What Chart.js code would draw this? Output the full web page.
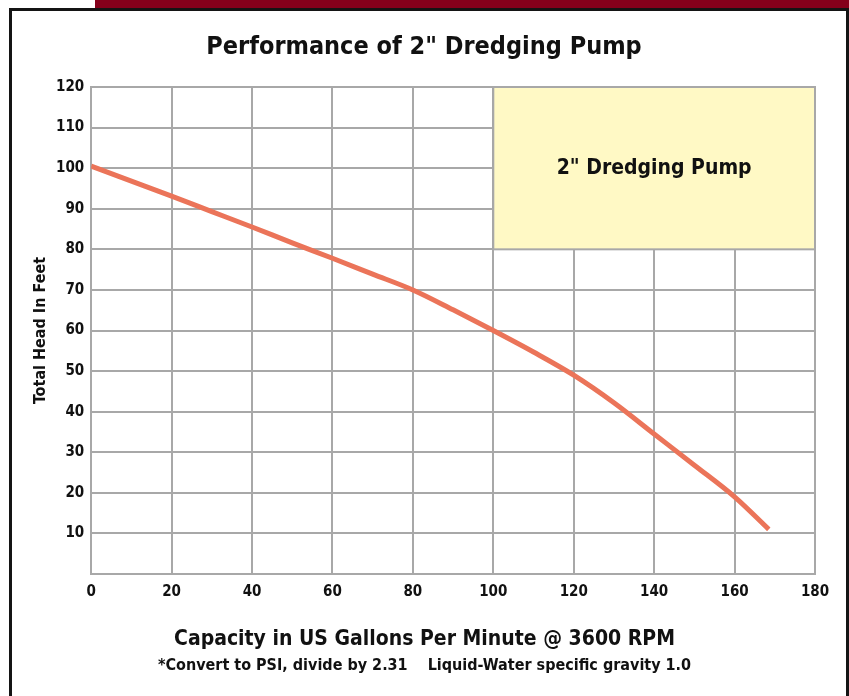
<!DOCTYPE html>
<html>
<head>
<meta charset="utf-8">
<script src="https://cdn.jsdelivr.net/npm/chart.js@4/dist/chart.umd.min.js"></script>
<style>
  html, body { margin: 0; padding: 0; background: #fff; width: 849px; height: 696px; overflow: hidden; }
  .band { position: absolute; left: 95px; top: 0; right: 0; height: 8px; background: #85001b; }
  .frame { position: absolute; left: 9px; top: 8px; width: 840px; height: 720px; box-sizing: border-box; border: 3px solid #141414; }
  #chart { position: absolute; left: 0; top: 0; }
</style>
</head>
<body>
<div class="band"></div>
<div class="frame"></div>
<canvas id="chart" width="849" height="696"></canvas>
<script>
const flowGpm = [0, 10, 20, 30, 40, 50, 60, 70, 80, 90, 100, 110, 120, 130, 140, 150, 160, 168.5];
const headFt = [100.5, 96.8, 93.1, 89.3, 85.5, 81.6, 77.8, 73.9, 70, 65.1, 60, 54.7, 49, 42.2, 34.5, 26.8, 19, 11];
const xTicks = [0, 20, 40, 60, 80, 100, 120, 140, 160, 180];
const yTicks = [10, 20, 30, 40, 50, 60, 70, 80, 90, 100, 110, 120];
const labelBox = { xFrom: 100, xTo: 180, yFrom: 80, yTo: 120, text: '2" Dredging Pump' };
const xAxisTitle = "Capacity in US Gallons Per Minute @ 3600 RPM";
const footNote = "*Convert to PSI, divide by 2.31    Liquid-Water specific gravity 1.0";

const FONT = "'Liberation Sans Narrow', 'DejaVu Sans Condensed', 'Arial Narrow', sans-serif";
const gridColor = "#a8a8a8";

Chart.defaults.font.family = FONT;
Chart.defaults.font.weight = "bold";
Chart.defaults.color = "#111";

// yellow legend box sitting in the top right cells of the grid
const boxPlugin = {
  id: "pumpBox",
  beforeDatasetsDraw(chart) {
    const { ctx, scales: { x, y } } = chart;
    const l = x.getPixelForValue(labelBox.xFrom), r = x.getPixelForValue(labelBox.xTo);
    const t = y.getPixelForValue(labelBox.yTo), b = y.getPixelForValue(labelBox.yFrom);
    ctx.save();
    ctx.fillStyle = "#fff9c5";
    ctx.fillRect(l, t, r - l, b - t);
    ctx.strokeStyle = gridColor;
    ctx.lineWidth = 2;
    ctx.strokeRect(l, t, r - l, b - t);
    ctx.fillStyle = "#111";
    ctx.font = `bold 21px ${FONT}`;
    ctx.textAlign = "center";
    ctx.textBaseline = "middle";
    ctx.fillText(labelBox.text, (l + r) / 2, (t + b) / 2);
    ctx.restore();
  }
};

// bottom captions are centred on the page, not on the plot area
const captionPlugin = {
  id: "captions",
  afterDraw(chart) {
    const { ctx, width, height } = chart;
    ctx.save();
    ctx.fillStyle = "#111";
    ctx.textAlign = "center";
    ctx.textBaseline = "middle";
    ctx.font = `bold 21px ${FONT}`;
    ctx.fillText(xAxisTitle, width / 2, height - 56);
    ctx.font = `bold 16px ${FONT}`;
    ctx.fillText(footNote, width / 2, height - 30);
    ctx.restore();
  }
};

new Chart(document.getElementById("chart"), {
  type: "line",
  data: {
    datasets: [{
      data: flowGpm.map((v, i) => ({ x: v, y: headFt[i] })),
      borderColor: "#eb7459",
      borderWidth: 5,
      pointRadius: 0,
      cubicInterpolationMode: "monotone",
      fill: false
    }]
  },
  options: {
    responsive: false,
    animation: false,
    layout: { padding: { left: 33, right: 34, bottom: 86 } },
    plugins: {
      legend: { display: false },
      tooltip: { enabled: false },
      title: {
        display: true,
        text: 'Performance of 2" Dredging Pump',
        font: { size: 25, weight: "bold" },
        padding: { top: 32, bottom: 25 }
      }
    },
    scales: {
      x: {
        type: "linear",
        min: 0,
        max: 180,
        afterBuildTicks: axis => { axis.ticks = xTicks.map(v => ({ value: v })); },
        ticks: { font: { size: 15, weight: "bold" }, padding: 9, maxRotation: 0 },
        grid: { color: gridColor, lineWidth: 2, drawTicks: false },
        border: { color: gridColor, width: 2 }
      },
      y: {
        min: 0,
        max: 120,
        afterBuildTicks: axis => { axis.ticks = [0, ...yTicks].map(v => ({ value: v })); },
        ticks: { font: { size: 15, weight: "bold" }, padding: 7, callback: v => (v === 0 ? "" : v) },
        grid: { color: gridColor, lineWidth: 2, drawTicks: false },
        border: { color: gridColor, width: 2 },
        title: {
          display: true,
          text: "Total Head In Feet",
          font: { size: 16, weight: "bold", lineHeight: 1 },
          padding: { top: 0, bottom: 0 }
        }
      }
    }
  },
  plugins: [boxPlugin, captionPlugin]
});
</script>
</body>
</html>
